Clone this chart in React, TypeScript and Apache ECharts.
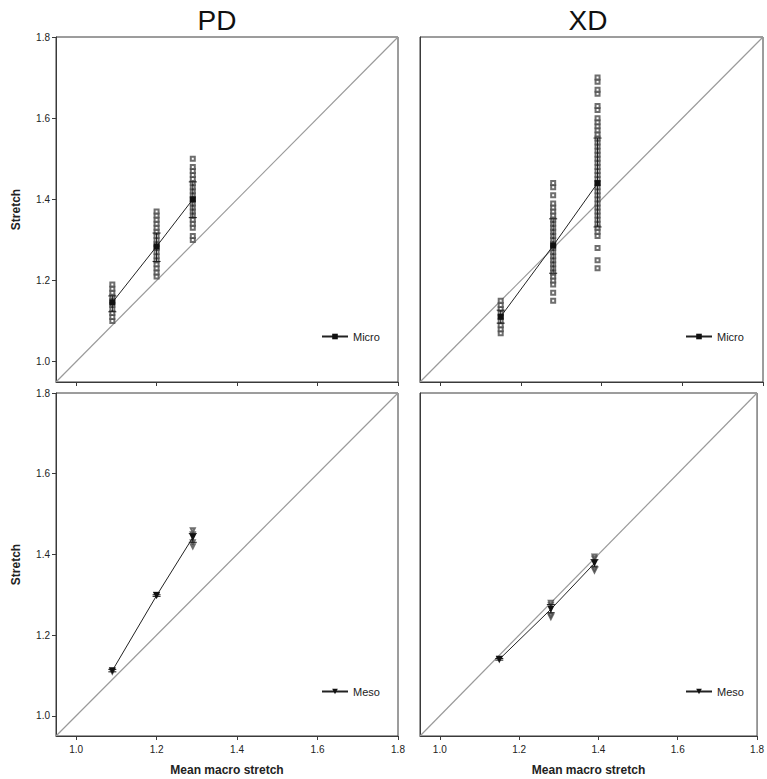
import React, { useEffect, useRef } from "react";
import * as echarts from "echarts";

// ---- axis ticks ----
const tickValues = [1.0, 1.2, 1.4, 1.6, 1.8];
const axisMin = 0.95;
const axisMax = 1.8;
const diagonal = [0.95, 1.8];

// ---- PD Micro (top-left) ----
const pdMicroX = [1.09, 1.2, 1.29];
const pdMicroMean = [1.146, 1.284, 1.4];
const pdMicroLow = [1.123, 1.247, 1.355];
const pdMicroHigh = [1.162, 1.317, 1.443];
const pdMicroPts = [
  [1.1, 1.11, 1.12, 1.13, 1.14, 1.15, 1.16, 1.17, 1.18, 1.19],
  [1.21, 1.22, 1.23, 1.24, 1.25, 1.26, 1.27, 1.28, 1.29, 1.3, 1.31, 1.32, 1.33, 1.34, 1.35, 1.36, 1.37],
  [1.3, 1.31, 1.33, 1.34, 1.35, 1.36, 1.37, 1.38, 1.39, 1.4, 1.41, 1.42, 1.43, 1.44, 1.45, 1.46, 1.47, 1.48, 1.5],
];

// ---- XD Micro (top-right) ----
const xdMicroX = [1.15, 1.28, 1.39];
const xdMicroMean = [1.111, 1.286, 1.44];
const xdMicroLow = [1.095, 1.218, 1.332];
const xdMicroHigh = [1.127, 1.352, 1.551];
const xdMicroPts = [
  [1.07, 1.08, 1.09, 1.1, 1.11, 1.12, 1.13, 1.14, 1.15],
  [1.15, 1.17, 1.19, 1.2, 1.21, 1.22, 1.23, 1.24, 1.25, 1.26, 1.27, 1.28, 1.29, 1.3, 1.31, 1.32, 1.33, 1.34, 1.35, 1.36, 1.37, 1.38, 1.39, 1.41, 1.43, 1.44],
  [1.23, 1.25, 1.28, 1.31, 1.32, 1.33, 1.34, 1.35, 1.36, 1.37, 1.38, 1.39, 1.4, 1.41, 1.42, 1.43, 1.44, 1.45, 1.46, 1.47, 1.48, 1.49, 1.5, 1.51, 1.52, 1.53, 1.54, 1.55, 1.56, 1.57, 1.58, 1.59, 1.6, 1.62, 1.63, 1.66, 1.67, 1.69, 1.7],
];

// ---- PD Meso (bottom-left) ----
const pdMesoX = [1.09, 1.2, 1.29];
const pdMesoMean = [1.112, 1.298, 1.442];
const pdMesoLow = [1.109, 1.296, 1.43];
const pdMesoHigh = [1.115, 1.3, 1.452];
const pdMesoPts = [[1.11], [1.3], [1.42, 1.43, 1.45, 1.46]];

// ---- XD Meso (bottom-right) ----
const xdMesoX = [1.15, 1.28, 1.39];
const xdMesoMean = [1.14, 1.264, 1.378];
const xdMesoLow = [1.138, 1.255, 1.369];
const xdMesoHigh = [1.142, 1.276, 1.387];
const xdMesoPts = [[1.14], [1.245, 1.25, 1.275, 1.28], [1.36, 1.365, 1.39, 1.395]];

const FONT = "Liberation Sans, Arial, sans-serif";

type Panel = {
  name: string;
  x: number[];
  mean: number[];
  low: number[];
  high: number[];
  pts: number[][];
  mesoStyle: boolean;
  grid: { left: number; top: number; width: number; height: number };
  showXLabels: boolean;
  showYLabels: boolean;
  legendPos: { left: number; top: number };
};

const panels: Panel[] = [
  {
    name: "Micro", x: pdMicroX, mean: pdMicroMean, low: pdMicroLow, high: pdMicroHigh, pts: pdMicroPts,
    mesoStyle: false, grid: { left: 56, top: 37, width: 342, height: 345 },
    showXLabels: false, showYLabels: true, legendPos: { left: 316, top: 326 },
  },
  {
    name: "Micro", x: xdMicroX, mean: xdMicroMean, low: xdMicroLow, high: xdMicroHigh, pts: xdMicroPts,
    mesoStyle: false, grid: { left: 420, top: 37, width: 343, height: 345 },
    showXLabels: false, showYLabels: false, legendPos: { left: 680, top: 326 },
  },
  {
    name: "Meso", x: pdMesoX, mean: pdMesoMean, low: pdMesoLow, high: pdMesoHigh, pts: pdMesoPts,
    mesoStyle: true, grid: { left: 56, top: 393, width: 342, height: 343 },
    showXLabels: true, showYLabels: true, legendPos: { left: 316, top: 681 },
  },
  {
    name: "Meso", x: xdMesoX, mean: xdMesoMean, low: xdMesoLow, high: xdMesoHigh, pts: xdMesoPts,
    mesoStyle: true, grid: { left: 420, top: 393, width: 343, height: 343 },
    showXLabels: true, showYLabels: false, legendPos: { left: 680, top: 681 },
  },
];

function buildOption() {
  const grids: any[] = [];
  const xAxes: any[] = [];
  const yAxes: any[] = [];
  const series: any[] = [];
  const legends: any[] = [];
  const axisColor = "#3a3a3a";

  panels.forEach((p, i) => {
    grids.push({
      ...p.grid,
      show: true,
      borderColor: axisColor,
      borderWidth: 1,
      backgroundColor: "transparent",
      containLabel: false,
    });
    xAxes.push({
      type: "value",
      gridIndex: i,
      min: axisMin,
      max: axisMax,
      axisLine: { show: true, onZero: false, lineStyle: { color: axisColor, width: 1 } },
      axisTick: { show: true, length: 4, inside: false, customValues: tickValues, lineStyle: { color: axisColor } },
      axisLabel: {
        show: p.showXLabels,
        customValues: tickValues,
        formatter: (v: number) => v.toFixed(1),
        color: "#222",
        fontSize: 10,
        fontFamily: FONT,
        margin: 8,
      },
      splitLine: { show: false },
      name: p.showXLabels ? "Mean macro stretch" : "",
      nameLocation: "middle",
      nameGap: 28,
      nameTextStyle: { fontSize: 12, fontWeight: "bold", color: "#222", fontFamily: FONT },
    });
    yAxes.push({
      type: "value",
      gridIndex: i,
      min: axisMin,
      max: axisMax,
      axisLine: { show: true, onZero: false, lineStyle: { color: axisColor, width: 1 } },
      axisTick: { show: p.showYLabels, length: 4, inside: false, customValues: tickValues, lineStyle: { color: axisColor } },
      axisLabel: {
        show: p.showYLabels,
        customValues: tickValues,
        formatter: (v: number) => v.toFixed(1),
        color: "#222",
        fontSize: 10,
        fontFamily: FONT,
        margin: 6,
      },
      splitLine: { show: false },
      name: p.showYLabels ? "Stretch" : "",
      nameLocation: "middle",
      nameGap: 34,
      nameTextStyle: { fontSize: 12, fontWeight: "bold", color: "#222", fontFamily: FONT },
    });

    // diagonal y = x
    series.push({
      type: "line",
      name: "diag" + i,
      xAxisIndex: i,
      yAxisIndex: i,
      data: [
        [diagonal[0], diagonal[0]],
        [diagonal[1], diagonal[1]],
      ],
      symbol: "none",
      silent: true,
      lineStyle: { color: "#9a9a9a", width: 1.2 },
      z: 1,
    });

    // individual measurements
    const ptsData: number[][] = [];
    p.pts.forEach((arr, k) => arr.forEach((v) => ptsData.push([p.x[k], v])));
    series.push({
      type: "scatter",
      name: "pts" + i,
      xAxisIndex: i,
      yAxisIndex: i,
      data: ptsData,
      symbol: p.mesoStyle ? "emptyTriangle" : "emptyRect",
      symbolRotate: p.mesoStyle ? 180 : 0,
      symbolSize: p.mesoStyle ? 4 : 4,
      itemStyle: { color: "#4a4a4a", borderWidth: 0.9 },
      silent: true,
      z: 2,
    });

    // error bars
    series.push({
      type: "custom",
      name: "err" + i,
      xAxisIndex: i,
      yAxisIndex: i,
      data: p.x.map((x, k) => [x, p.low[k], p.high[k]]),
      encode: { x: 0, y: [1, 2] },
      silent: true,
      z: 3,
      renderItem: (params: any, api: any) => {
        const x = api.value(0);
        const a = api.coord([x, api.value(2)]);
        const b = api.coord([x, api.value(1)]);
        const w = 4;
        const st = { stroke: "#1a1a1a", lineWidth: 1 };
        return {
          type: "group",
          children: [
            { type: "line", shape: { x1: a[0], y1: a[1], x2: b[0], y2: b[1] }, style: st },
            { type: "line", shape: { x1: a[0] - w, y1: a[1], x2: a[0] + w, y2: a[1] }, style: st },
            { type: "line", shape: { x1: b[0] - w, y1: b[1], x2: b[0] + w, y2: b[1] }, style: st },
          ],
        };
      },
    });

    // mean line
    series.push({
      type: "line",
      name: p.name,
      xAxisIndex: i,
      yAxisIndex: i,
      data: p.x.map((x, k) => [x, p.mean[k]]),
      symbol: p.mesoStyle ? "triangle" : "rect",
      symbolRotate: p.mesoStyle ? 180 : 0,
      symbolSize: p.mesoStyle ? 7 : 6,
      itemStyle: { color: "#111" },
      lineStyle: { color: "#222", width: 1 },
      z: 4,
    });

    legends.push({
      data: [p.name],
      left: p.legendPos.left,
      top: p.legendPos.top,
      orient: "horizontal",
      itemWidth: 26,
      itemHeight: 7,
      itemGap: 4,
      selectedMode: false,
      textStyle: { fontSize: 11, color: "#222", fontFamily: FONT },
    });
  });

  return {
    animation: false,
    backgroundColor: "#fff",
    textStyle: { fontFamily: FONT },
    grid: grids,
    xAxis: xAxes,
    yAxis: yAxes,
    legend: legends,
    series,
    graphic: [
      {
        type: "text",
        x: 217,
        y: 20,
        style: { text: "PD", font: "28px Liberation Sans, Arial, sans-serif", fill: "#111", align: "center", verticalAlign: "middle" },
      },
      {
        type: "text",
        x: 588,
        y: 20,
        style: { text: "XD", font: "28px Liberation Sans, Arial, sans-serif", fill: "#111", align: "center", verticalAlign: "middle" },
      },
    ],
  };
}

export default function App() {
  const ref = useRef<HTMLDivElement | null>(null);
  useEffect(() => {
    if (!ref.current) return;
    const chart = echarts.init(ref.current, undefined, { renderer: "svg" });
    chart.setOption(buildOption() as any);
    return () => chart.dispose();
  }, []);
  return (
    <div
      ref={ref}
      style={{ position: "fixed", left: 0, top: 0, width: 767, height: 779, background: "#fff" }}
    />
  );
}
